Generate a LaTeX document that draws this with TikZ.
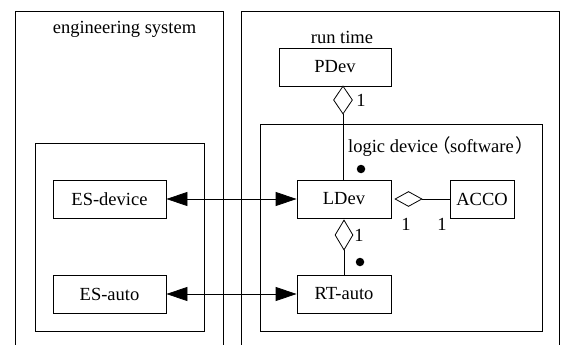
\documentclass[tikz,border=0pt]{standalone}
\usepackage{fontspec}
\setmainfont{Liberation Serif}
\newfontfamily\cjkfont{Noto Sans CJK SC}
\usetikzlibrary{shapes.geometric,arrows.meta}
\begin{document}
\begin{tikzpicture}[x=1pt,y=-1pt,
  every node/.style={font=\fontsize{18.5}{21}\selectfont},
  box/.style={draw,line width=0.8pt,minimum height=38pt,inner sep=0pt},
  frame/.style={draw,line width=0.8pt},
  agg/.style={draw,diamond,line width=0.8pt,inner sep=0pt,fill=white},
  conn/.style={line width=0.8pt},
  dbl/.style={line width=0.8pt,{Triangle[length=21pt,width=14pt]}-{Triangle[length=21pt,width=14pt]}},
  dot/.style={circle,fill=black,inner sep=0pt,minimum size=8.5pt}]
\useasboundingbox (0,0) rectangle (562,345);
\fill[white] (0,0) rectangle (562,345);
% outer frames (cut at bottom)
\draw[frame] (15,346) -- (15,11) -- (223,11) -- (223,346);
\draw[frame] (241,346) -- (241,11) -- (559,11) -- (559,346);
\node (es) at (124.5,29) {engineering system};
\node (rt) at (342,37) {run time};
% inner frames
\draw[frame] (35,143) rectangle (204,331);
\draw[frame] (260,124.5) rectangle (542,331);
\node[anchor=west,inner sep=0pt] (ld) at (348,147) {logic device{\cjkfont\makebox[12pt][r]{（\kern-0.5pt}}software{\cjkfont\makebox[12pt][l]{\kern1.5pt）}}};
% boxes
\node[box,minimum width=113pt] (esdev) at (109.5,199) {ES-device};
\node[box,minimum width=113pt] (esauto) at (109.5,294) {ES-auto};
\node[box,minimum width=112pt] (pdev) at (335,67) {PDev};
\node[box,minimum width=94pt] (ldev) at (344,199) {LDev};
\node[box,minimum width=94pt] (rtauto) at (344,294) {RT-auto};
\node[box,minimum width=64pt] (acco) at (482,199) {ACCO};
% aggregation diamonds
\node[agg,minimum width=19pt,minimum height=28pt] (d1) at (343,100) {};
\node[agg,minimum width=27pt,minimum height=15pt] (d2) at (408.5,199) {};
\node[agg,minimum width=18pt,minimum height=30pt] (d3) at (344,235) {};
\draw[conn] (d1.south) -- (d1.south |- ldev.north);
\draw[conn] (d2.east) -- (acco.west);
\draw[conn] (d3.south) -- (rtauto.north);
% multiplicities
\node (m1) at (361,100) {1};
\node (m2) at (406,224) {1};
\node (m3) at (442,224) {1};
\node (m4) at (359,235) {1};
% dots
\node[dot] (p1) at (361,169) {};
\node[dot] (p2) at (360,262) {};
% double arrows
\draw[dbl] (esdev.east) -- (ldev.west);
\draw[dbl] (esauto.east) -- (rtauto.west);
\end{tikzpicture}
\end{document}
